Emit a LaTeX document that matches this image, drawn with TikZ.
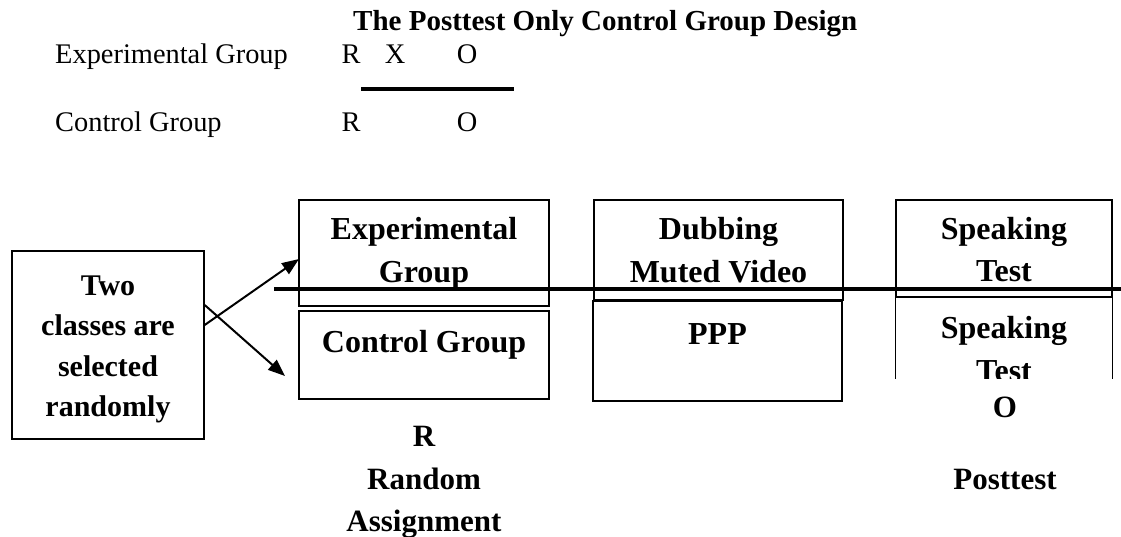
\documentclass[tikz,border=0pt]{standalone}
\usepackage{fontspec}
\setmainfont{Liberation Serif}
\usepackage{tikz}
\usetikzlibrary{arrows.meta}

\begin{document}
\begin{tikzpicture}[x=1pt,y=-1pt,
  box/.style={draw,line width=1.4pt,inner sep=0pt},
  txt/.style={inner sep=0pt,anchor=base,font=\fontsize{28.4}{34}\selectfont},
  btxt/.style={inner sep=0pt,anchor=base,font=\fontsize{32}{40}\selectfont\bfseries},
  ltxt/.style={inner sep=0pt,anchor=base,font=\fontsize{30}{38}\selectfont\bfseries},
  arr/.style={line width=2pt,-{Triangle[length=17pt,width=13pt]}}]

\useasboundingbox (0,0) rectangle (1121,537);

% design
\node[inner sep=0pt,anchor=base west,font=\fontsize{29}{35}\selectfont\bfseries] (title) at (353,31) {The Posttest Only Control Group Design};
\node[txt,anchor=base west] (eg) at (55,64) {Experimental Group};
\node[txt] (egR) at (351,64) {R};
\node[txt] (egX) at (395,64) {X};
\node[txt] (egO) at (467,64) {O};
\node[txt,anchor=base west] (cg) at (55,132) {Control Group};
\node[txt] (cgR) at (351,132) {R};
\node[txt] (cgO) at (467,132) {O};
\coordinate (barL) at (361,89);
\coordinate (barR) at (514,89);
\draw[line width=4pt] (barL) -- (barR);

% selezione
\node[box,minimum width=192pt,minimum height=188pt] (lbox) at (108,345) {};
\node[ltxt] (l1) at (108,295) {Two};
\node[ltxt] (l2) at (108,335) {classes are};
\node[ltxt] (l3) at (108,376) {selected};
\node[ltxt] (l4) at (108,416) {randomly};

% gruppi
\node[box,minimum width=250pt,minimum height=106pt] (exp) at (424,253) {};
\node[btxt] (exp1) at (424,240) {Experimental};
\node[btxt] (exp2) at (424,282) {Group};
\node[box,minimum width=250pt,minimum height=88pt] (ctl) at (424,355) {};
\node[btxt] (ctl1) at (424,352) {Control Group};

% trattamento
\node[box,minimum width=249pt,minimum height=100pt] (dub) at (718.5,250) {};
\node[btxt] (dub1) at (718.5,240) {Dubbing};
\node[btxt] (dub2) at (718.5,282) {Muted Video};
\node[box,minimum width=249pt,minimum height=100pt] (ppp) at (717.5,351) {};
\node[btxt] (ppp1) at (717.5,344) {PPP};

% posttest
\node[box,minimum width=216pt,minimum height=97pt] (spk) at (1004,248.5) {};
\node[btxt] (spk1) at (1004,240) {Speaking};
\node[btxt] (spk2) at (1004,281) {Test};
\draw[line width=1.4pt] (spk.south west) -- ++(0,81);
\draw[line width=1.4pt] (spk.south east) -- ++(0,81);
\begin{scope}
\clip (896,297) rectangle (1112,378);
\node[btxt] (spk3) at (1004,338) {Speaking};
\node[btxt] (spk4) at (1004,381) {Test};
\end{scope}

% linea
\coordinate (midL) at (274,289);
\coordinate (midR) at (1121,289);
\draw[line width=3.5pt] (midL) -- (midR);

% frecce
\coordinate (upB) at (299,259);
\coordinate (dnB) at (285,376);
\draw[arr] ([yshift=20pt]lbox.east) -- (upB);
\draw[arr] ([yshift=40pt]lbox.east) -- (dnB);

% etichette
\node[btxt,font=\fontsize{31}{38}\selectfont\bfseries] (r1) at (424,446) {R};
\node[btxt,font=\fontsize{31}{38}\selectfont\bfseries] (r2) at (424,489) {Random};
\node[btxt,font=\fontsize{31}{38}\selectfont\bfseries] (r3) at (424,531) {Assignment};
\node[btxt,font=\fontsize{31}{38}\selectfont\bfseries] (o1) at (1005,417) {O};
\node[btxt,font=\fontsize{31}{38}\selectfont\bfseries] (o2) at (1005,489) {Posttest};

\end{tikzpicture}
\end{document}
